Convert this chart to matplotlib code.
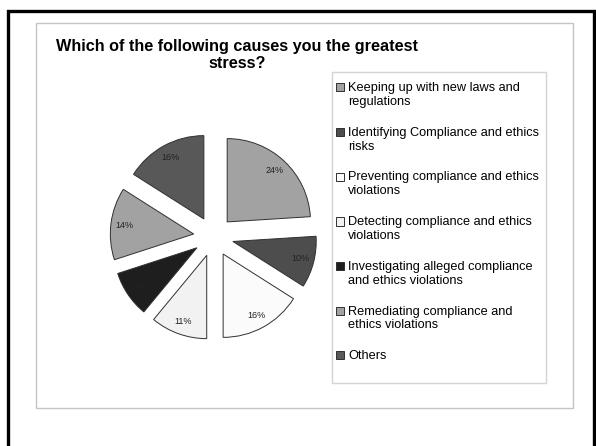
import matplotlib
matplotlib.use("Agg")
import matplotlib.pyplot as plt
from matplotlib.patches import Rectangle
from matplotlib.legend_handler import HandlerPatch

plt.rcParams['font.family'] = ['Liberation Sans', 'DejaVu Sans']

labels = [
    "Keeping up with new laws and\nregulations",
    "Identifying Compliance and ethics\nrisks",
    "Preventing compliance and ethics\nviolations",
    "Detecting compliance and ethics\nviolations",
    "Investigating alleged compliance\nand ethics violations",
    "Remediating compliance and\nethics violations",
    "Others",
]
shares = [24, 10, 16, 11, 9, 14, 16]
colors = ["#a2a2a2", "#4d4d4d", "#fbfbfb", "#f2f2f2", "#1e1e1e", "#a2a2a2", "#585858"]

W, H = 596, 446
fig = plt.figure(figsize=(W / 100, H / 100), dpi=100)

def px(x0, y0, x1, y1):
    # pixel box (top-left origin) -> figure fraction rect
    return [x0 / W, 1 - y1 / H, (x1 - x0) / W, (y1 - y0) / H]

# slide border and chart area
fig.patches.append(Rectangle((8 / W, -0.05), (594 - 8) / W, 1.05 - 11 / H,
                             transform=fig.transFigure, fill=False,
                             edgecolor="black", linewidth=2.4))
fig.patches.append(Rectangle((36 / W, 1 - 408 / H), (573 - 36) / W, (408 - 23) / H,
                             transform=fig.transFigure, fill=False,
                             edgecolor="#c4c4c4", linewidth=1.0))
fig.patches.append(Rectangle((332 / W, 1 - 383 / H), (546 - 332) / W, (383 - 72) / H,
                             transform=fig.transFigure, fill=False,
                             edgecolor="#d4d4d4", linewidth=1.0))

fig.text(237.5 / W, 1 - 55 / H, "Which of the following causes you the greatest\nstress?",
         ha="center", va="center", fontsize=11.7, fontweight="bold",
         linespacing=1.2)

cx, cy, half = 213.5, 236.5, 125
ax = fig.add_axes(px(cx - half, cy - half, cx + half, cy + half))
wedges, texts, autotexts = ax.pie(
    shares, colors=colors, startangle=90, counterclock=False,
    explode=[0.24] * len(shares), autopct="%d%%", pctdistance=0.84,
    wedgeprops=dict(edgecolor="#303030", linewidth=0.7),
    textprops=dict(fontsize=6.5, color="#222222"))
ax.set_xlim(-1.5, 1.5)
ax.set_ylim(-1.5, 1.5)
ax.set_aspect("equal")
ax.axis("off")

LEG_FS = 9.2


def top_line_square(shift):
    # legend key sitting next to the first line of a wrapped label
    def make(legend, orig_handle, xdescent, ydescent, width, height, fontsize):
        return Rectangle((-xdescent, -ydescent + shift), width, height)
    return HandlerPatch(patch_func=make)


handler_map = {}
for w, lab in zip(wedges, labels):
    handler_map[w] = top_line_square(0.6 * LEG_FS if "\n" in lab else 0.0)

leg = fig.legend(wedges, labels, loc="upper left",
                 bbox_to_anchor=(336 / W, 1 - 82 / H), frameon=False,
                 fontsize=LEG_FS, handlelength=0.62, handleheight=0.62,
                 handletextpad=0.35, labelspacing=1.48, borderpad=0,
                 borderaxespad=0, handler_map=handler_map)
for h in leg.legend_handles:
    h.set_edgecolor("#303030")
    h.set_linewidth(0.7)

fig.savefig("out.png", dpi=100)
